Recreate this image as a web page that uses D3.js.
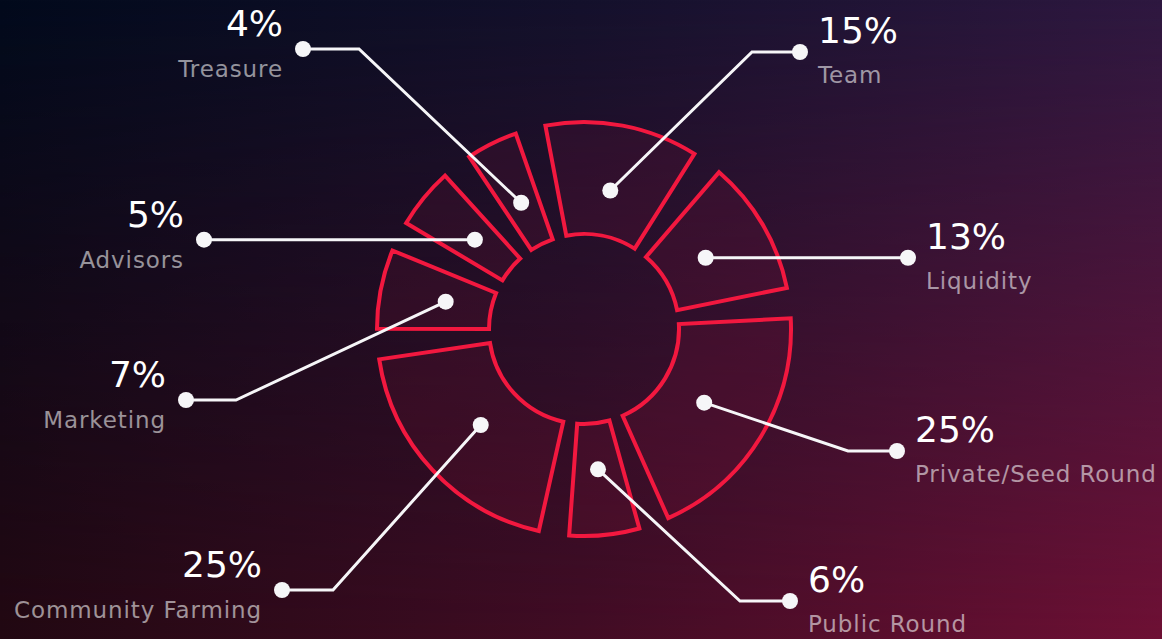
<!DOCTYPE html>
<html>
<head>
<meta charset="utf-8">
<script src="https://cdn.jsdelivr.net/npm/d3@7"></script>
<style>
  html, body { margin: 0; padding: 0; background: #0b0b1a; }
  svg { display: block; }
  text { font-family: "DejaVu Sans", "Noto Sans", sans-serif; }
</style>
</head>
<body>
<script>
// ---- data ----
const categories = ["Team", "Liquidity", "Private/Seed Round", "Public Round",
                    "Community Farming", "Marketing", "Advisors", "Treasure"];
const values = [15, 13, 25, 6, 25, 7, 5, 4];
const valueLabels = ["15%", "13%", "25%", "6%", "25%", "7%", "5%", "4%"];

// ---- annotation layout (label anchor dot and leader elbow, px) ----
const labelSide = ["right", "right", "right", "right", "left", "left", "left", "left"];
const anchorX = [800, 908, 897, 790, 282, 186, 204, 303];
const anchorY = [52, null, 451, 601, 590, 400, null, 49];
const elbowX = [752, null, 848, 740, 333, 236, null, 359];

const W = 1162, H = 639;
const deg = Math.PI / 180;
const cx = 584, cy = 329, rInner = 95, rOuter = 207, rDot = 141;

const svg = d3.select("body").append("svg").attr("width", W).attr("height", H);
const defs = svg.append("defs");

function linGrad(id, x1, y1, x2, y2, stops) {
  const g = defs.append("linearGradient").attr("id", id)
    .attr("gradientUnits", "userSpaceOnUse")
    .attr("x1", x1).attr("y1", y1).attr("x2", x2).attr("y2", y2);
  stops.forEach(([o, c, a]) => g.append("stop").attr("offset", o).attr("stop-color", c).attr("stop-opacity", a == null ? 1 : a));
}
linGrad("bgTop", 0, 0, W, 0, [[0, "#020a1c"], [0.5, "#14112c"], [1, "#2e1840"]]);
linGrad("bgBot", 0, 0, W, 0, [[0, "#220812"], [0.5, "#420c24"], [1, "#6e1034"]]);
linGrad("fadeV", 0, 0, 0, H, [[0, "#fff", 0], [1, "#fff", 1]]);
defs.append("mask").attr("id", "vmask").attr("maskUnits", "userSpaceOnUse")
  .attr("x", 0).attr("y", 0).attr("width", W).attr("height", H)
  .append("rect").attr("width", W).attr("height", H).attr("fill", "url(#fadeV)");

svg.append("rect").attr("width", W).attr("height", H).attr("fill", "url(#bgTop)");
svg.append("rect").attr("width", W).attr("height", H).attr("fill", "url(#bgBot)").attr("mask", "url(#vmask)");

const data = categories.map((c, i) => ({ name: c, value: values[i], label: valueLabels[i], i }));

const start = -15 * deg;
const pie = d3.pie()
  .sort(null)
  .value(d => d.value + 1.56)   // small even share so thin slices stay readable
  .startAngle(start)
  .endAngle(start + 2 * Math.PI)
  .padAngle(8.5 * deg);

const arcs = pie(data);

const arc = d3.arc()
  .innerRadius(rInner)
  .outerRadius(rOuter)
  .startAngle(d => d.startAngle + d.padAngle / 2)
  .endAngle(d => d.endAngle - d.padAngle / 2)
  .padAngle(0);

const g = svg.append("g").attr("transform", `translate(${cx},${cy})`);

g.selectAll("path.slice").data(arcs).join("path")
  .attr("class", "slice")
  .attr("d", arc)
  .attr("fill", "rgba(255,30,80,0.07)")
  .attr("stroke", "#f2183f")
  .attr("stroke-width", 4)
  .attr("stroke-linejoin", "miter");

// leaders
const lead = svg.append("g");
arcs.forEach((a, i) => {
  const mid = (a.startAngle + a.endAngle) / 2;
  const [px, py] = d3.pointRadial(mid, rDot);
  const ix = cx + px, iy = cy + py;
  const ay = anchorY[i] == null ? iy : anchorY[i];
  const ax = anchorX[i];
  const pts = elbowX[i] == null ? [[ix, iy], [ax, ay]] : [[ix, iy], [elbowX[i], ay], [ax, ay]];
  lead.append("path")
    .attr("d", d3.line()(pts))
    .attr("fill", "none")
    .attr("stroke", "#f6f6f8")
    .attr("stroke-width", 3)
    .attr("stroke-linejoin", "miter");
  lead.append("circle").attr("cx", ix).attr("cy", iy).attr("r", 8).attr("fill", "#f6f6f8");
  lead.append("circle").attr("cx", ax).attr("cy", ay).attr("r", 8).attr("fill", "#f6f6f8");

  const side = labelSide[i];
  const tx = side === "right" ? ax + 18 : ax - 20;
  const anchor = side === "right" ? "start" : "end";
  lead.append("text")
    .attr("x", tx).attr("y", ay + (side === "right" ? -9 : -13))
    .attr("text-anchor", anchor)
    .attr("fill", "#ffffff")
    .attr("font-size", 36)
    .text(a.data.label);
  lead.append("text")
    .attr("x", tx).attr("y", ay + (side === "right" ? 31 : 28))
    .attr("text-anchor", anchor)
    .attr("fill", "#ffffff")
    .attr("fill-opacity", 0.56)
    .attr("font-size", 23)
    .attr("letter-spacing", 0.9)
    .text(a.data.name);
});
</script>
</body>
</html>
